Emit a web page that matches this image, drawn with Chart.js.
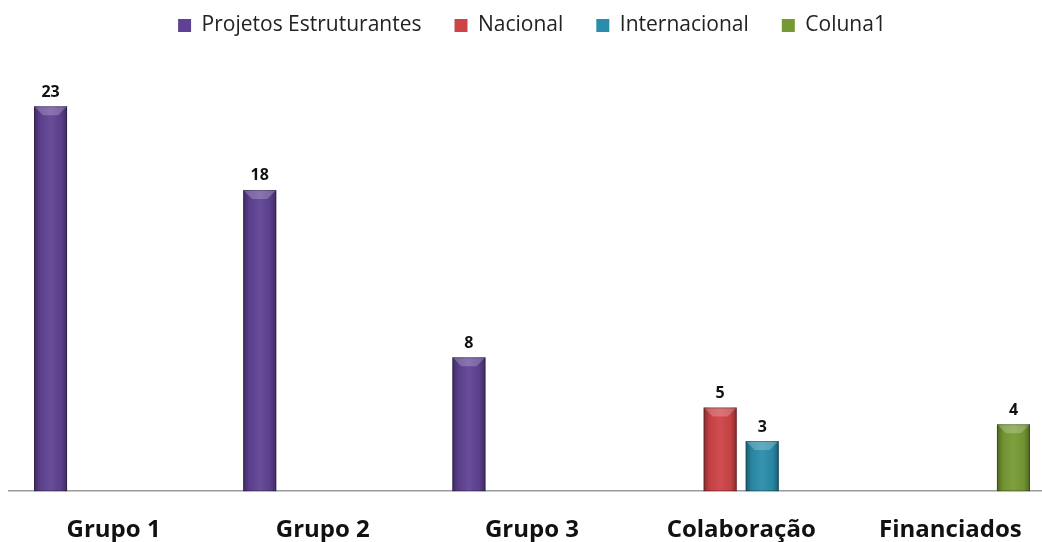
<!DOCTYPE html>
<html>
<head>
<meta charset="utf-8">
<script src="https://cdn.jsdelivr.net/npm/chart.js@4/dist/chart.umd.min.js"></script>
<style>
html,body{margin:0;padding:0;background:#fff;overflow:hidden;}
#wrap{width:1055px;height:542px;position:relative;}
</style>
</head>
<body>
<div id="wrap"><canvas id="myChart"></canvas></div>
<script>
const categories = ["Grupo 1", "Grupo 2", "Grupo 3", "Colaboração", "Financiados"];
const projetos = [23, 18, 8, null, null];
const nacional = [null, null, null, 5, null];
const internacional = [null, null, null, 3, null];
const coluna1 = [null, null, null, null, 4];
const seriesNames = ["Projetos Estruturantes", "Nacional", "Internacional", "Coluna1"];
const barColors = ["#5f4293", "#cd4346", "#2a8dab", "#769a33"];

// bevel look on top of every bar + value label
const bevel = {
  id: "bevel",
  afterDatasetsDraw(chart){
    const ctx = chart.ctx;
    chart.data.datasets.forEach((ds, i) => {
      chart.getDatasetMeta(i).data.forEach((bar, j) => {
        if(ds.data[j] == null) return;
        const l = bar.x - bar.width/2, r = bar.x + bar.width/2, t = bar.y, b = bar.base;
        const g = ctx.createLinearGradient(l, 0, r, 0);
        g.addColorStop(0, "rgba(0,0,0,0.35)");
        g.addColorStop(0.18, "rgba(0,0,0,0.05)");
        g.addColorStop(0.5, "rgba(255,255,255,0.06)");
        g.addColorStop(0.82, "rgba(0,0,0,0.05)");
        g.addColorStop(1, "rgba(0,0,0,0.35)");
        ctx.save();
        ctx.fillStyle = g;
        ctx.fillRect(l, t, r - l, b - t);
        const h = 9;
        ctx.beginPath();
        ctx.moveTo(l, t); ctx.lineTo(r, t); ctx.lineTo(r - h, t + h); ctx.lineTo(l + h, t + h); ctx.closePath();
        ctx.fillStyle = "rgba(255,255,255,0.22)";
        ctx.fill();
        ctx.strokeStyle = "rgba(0,0,0,0.25)";
        ctx.lineWidth = 1;
        ctx.strokeRect(l + 0.5, t + 0.5, r - l - 1, b - t - 1);
        ctx.fillStyle = "#111";
        ctx.font = "bold 16px 'Open Sans'";
        ctx.textAlign = "center";
        ctx.textBaseline = "bottom";
        ctx.fillText(ds.data[j], bar.x, t - 6);
        ctx.restore();
      });
    });
  }
};

const allData = [projetos, nacional, internacional, coluna1];

new Chart("myChart", {
  type: "bar",
  data: {
    labels: categories,
    datasets: allData.map((d, i) => ({
      label: seriesNames[i],
      data: d,
      backgroundColor: barColors[i],
      categoryPercentage: 0.804,
      barPercentage: 0.786
    }))
  },
  options: {
    responsive: true,
    maintainAspectRatio: false,
    animation: false,
    layout: {padding: {left: 9, right: 0, top: -18, bottom: -20}},
    plugins: {
      legend: {
        position: "top",
        labels: {
          boxWidth: 13,
          boxHeight: 13,
          padding: 33,
          color: "#222",
          font: {family: "'Open Sans'", size: 21}
        }
      },
      tooltip: {enabled: false}
    },
    scales: {
      x: {
        grid: {display: false},
        border: {color: "#9a9a9a", width: 1.5},
        ticks: {color: "#111", padding: 17, font: {family: "'Open Sans'", size: 24, weight: "bold"}}
      },
      y: {
        display: false,
        min: 0,
        max: 26.6
      }
    }
  },
  plugins: [bevel]
});
</script>
</body>
</html>
